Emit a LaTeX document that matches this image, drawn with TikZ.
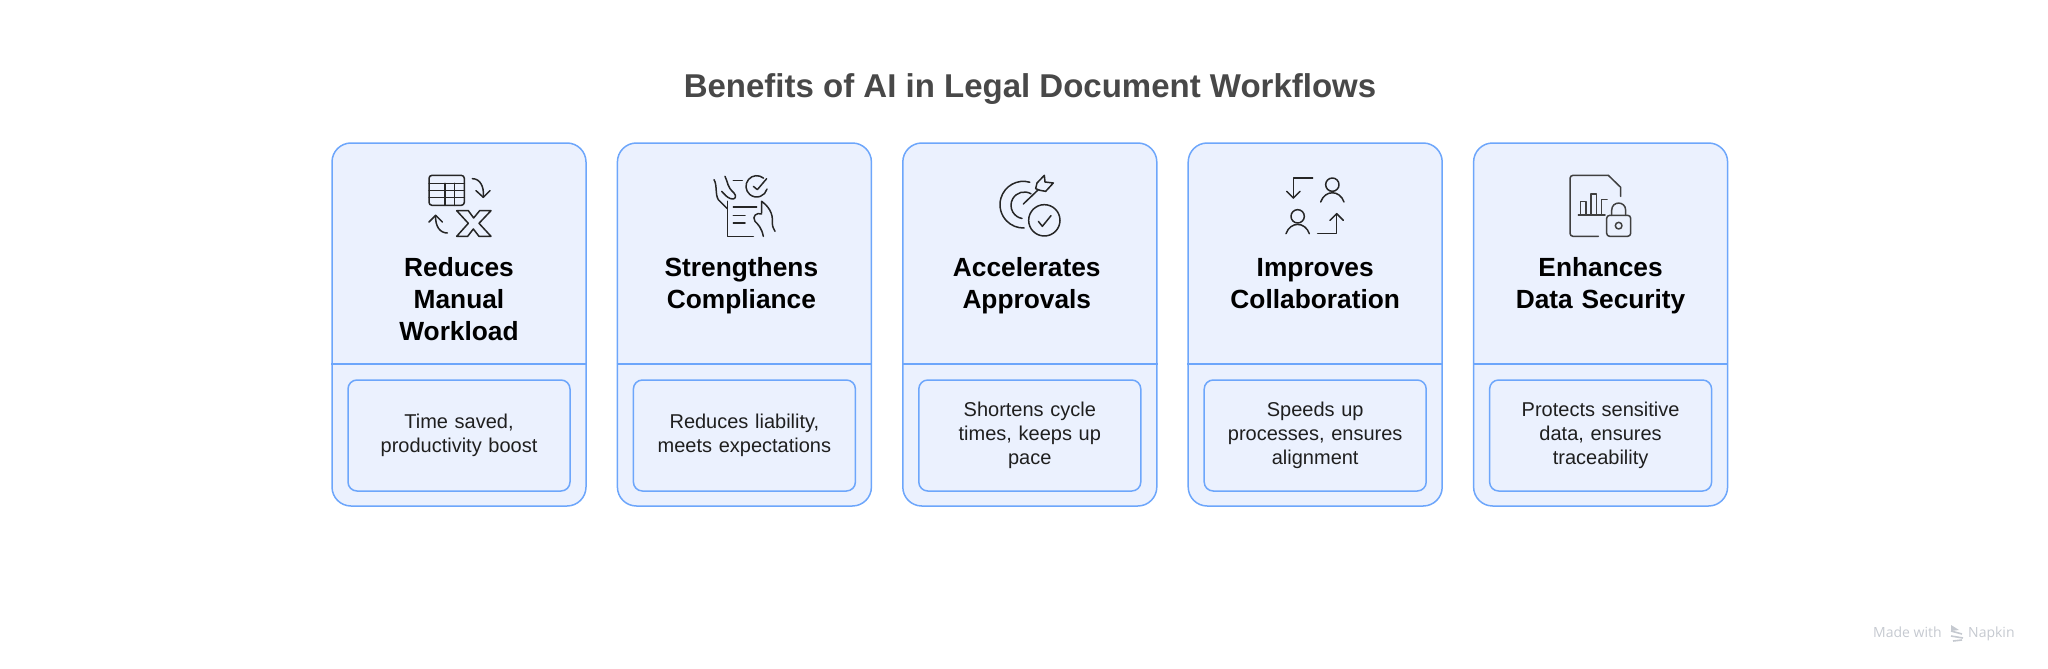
\documentclass[tikz,border=0pt]{standalone}
\usepackage{fontspec}
\setmainfont{Liberation Sans}
\newfontfamily\markfont{Open Sans}
\definecolor{cardfill}{HTML}{EBF1FE}
\definecolor{cardline}{HTML}{6DA6FB}
\definecolor{titletext}{HTML}{484848}
\definecolor{marktext}{HTML}{C5C9D0}

\begin{document}
\begin{tikzpicture}[
x=1pt, y=-1pt,
node distance=285.4pt,
card/.style={rectangle, draw=cardline, fill=cardfill, line width=1.5pt, rounded corners=19pt, minimum width=254pt, minimum height=363pt},
note/.style={rectangle, draw=cardline, fill=cardfill, line width=1.5pt, rounded corners=9pt, minimum width=222pt, minimum height=111pt, text width=210pt, align=center, inner sep=0pt, text=black!88, font=\fontsize{20}{24}\selectfont},
head/.style={anchor=north, text width=240pt, align=center, inner sep=0pt, font=\fontsize{26.3}{32}\selectfont\bfseries, execute at begin node={\rule{0pt}{20pt}}},
madewith/.style={font=\markfont\fontsize{14}{17}\selectfont, text=marktext, anchor=base west, inner sep=0pt},
divider/.style={draw=cardline, line width=1.5pt},
icon/.style={x=0.3333pt, y=-0.3333pt, line width=1.5pt, line cap=round, line join=round, draw=black!85}
]
\useasboundingbox (0,0) rectangle (2048,669);

%Title
\node[font=\fontsize{33}{40}\selectfont\bfseries, text=titletext] (title) at (1030,89) {Benefits of AI in Legal Document Workflows};

%Cards
\node[card]      (c1)     at (459,324.5)      {};
\node[card]      (c2)     [right of = c1]     {};
\node[card]      (c3)     [right of = c2]     {};
\node[card]      (c4)     [right of = c3]     {};
\node[card]      (c5)     [right of = c4]     {};

%Headings
\node[head]      (h1)     at ([yshift=-114pt]c1.north)                {Reduces\\Manual\\Workload};
\node[head]      (h2)     at ([xshift=-3pt,yshift=-114pt]c2.north)    {Strengthens\\Compliance};
\node[head]      (h3)     at ([xshift=-3pt,yshift=-114pt]c3.north)    {Accelerates\\Approvals};
\node[head]      (h4)     at ([yshift=-114pt]c4.north)                {Improves\\Collaboration};
\node[head]      (h5)     at ([yshift=-114pt]c5.north)                {Enhances\\Data Security};

%Notes
\node[note]      (n1)     at ([yshift=-111pt]c1.center)    {Time saved,\\productivity boost};
\node[note]      (n2)     at ([yshift=-111pt]c2.center)    {Reduces liability,\\meets expectations};
\node[note]      (n3)     at ([yshift=-111pt]c3.center)    {Shortens cycle\\times, keeps up\\pace};
\node[note]      (n4)     at ([yshift=-111pt]c4.center)    {Speeds up\\processes, ensures\\alignment};
\node[note]      (n5)     at ([yshift=-111pt]c5.center)    {Protects sensitive\\data, ensures\\traceability};

%Lines
\coordinate (rule) at (0,364);
\draw[divider] (c1.west |- rule) -- (c1.east |- rule);
\draw[divider] (c2.west |- rule) -- (c2.east |- rule);
\draw[divider] (c3.west |- rule) -- (c3.east |- rule);
\draw[divider] (c4.west |- rule) -- (c4.east |- rule);
\draw[divider] (c5.west |- rule) -- (c5.east |- rule);

%Icon: table and X
\begin{scope}[shift={(415,168)}, icon]
\draw[rounded corners=3pt] (42,22) rectangle (148,112);
\draw (42,46) -- (148,46) (42,67) -- (148,67) (42,89) -- (148,89);
\draw (90,46) -- (90,112) (118,46) -- (118,112);
\draw (172,32) .. controls (195,32) and (208,55) .. (205,88);
\draw (183,68) -- (205,88) -- (225,68);
\draw (97,195) .. controls (75,195) and (60,175) .. (62,142);
\draw (42,162) -- (62,142) -- (82,162);
\draw (125,128) -- (160,128) -- (176,150) -- (194,128) -- (228,128) -- (192,166) -- (228,205) -- (192,205) -- (175,183) -- (158,205) -- (125,205) -- (160,166) -- cycle;
\end{scope}

%Icon: document and hands
\begin{scope}[shift={(700,168)}, icon]
\draw (42,35) .. controls (52,50) and (45,80) .. (55,95) -- (82,122);
\draw (75,25) .. controls (85,45) and (80,55) .. (102,75) .. controls (112,85) and (105,97) .. (92,92) .. controls (80,88) and (75,80) .. (65,70);
\draw (100,37) -- (127,37);
\draw (190.6,30.5) arc[start angle=-50, end angle=-345, radius=32];
\draw (160,55) -- (172,65) -- (200,32);
\draw (82,100) -- (82,205) -- (160,205);
\draw (100,117) -- (170,117) (100,142) -- (135,142) (100,165) -- (135,165);
\draw (185,135) -- (185,100) .. controls (205,115) and (220,135) .. (217,165) .. controls (217,178) and (222,182) .. (225,190);
\draw (185,138) .. controls (170,132) and (155,145) .. (165,160) .. controls (175,170) and (185,180) .. (190,205);
\end{scope}

%Icon: target
\begin{scope}[shift={(985,168)}, icon]
\draw (134.3,42.7) arc[start angle=-74, end angle=-272, radius=70];
\draw (138,77.4) arc[start angle=-60, end angle=-260, radius=40];
\draw (178,157) circle[radius=47];
\draw (160,160) -- (172,175) -- (198,143);
\draw (115,108) -- (160,65);
\draw (152,62) -- (156,45) -- (178,22) -- (180,42) -- (205,45) -- (182,70) -- (165,67) -- cycle;
\end{scope}

%Icon: people and arrows
\begin{scope}[shift={(1270,168)}, icon]
\draw (128,30) -- (70,30) -- (70,90);
\draw (50,70) -- (70,90) -- (90,70);
\draw (187,50) circle[radius=20];
\draw (152,102) .. controls (165,65) and (209,65) .. (222,102);
\draw (83,145) circle[radius=20];
\draw (48,197) .. controls (61,160) and (105,160) .. (118,197);
\draw (143,197) -- (200,197) -- (200,137);
\draw (180,157) -- (200,137) -- (220,157);
\end{scope}

%Icon: file and lock
\begin{scope}[shift={(1555,168)}, icon, draw=black!75]
\draw[rounded corners=3pt] (130,205) -- (45,205) -- (45,22) -- (160,22);
\draw (160,22) -- (197,58) -- (197,85);
\draw (70,141) -- (150,141);
\draw (76,141) -- (76,100) -- (93,100) -- (93,141);
\draw (108,141) -- (108,78) -- (125,78) -- (125,141);
\draw (140,141) -- (140,95) -- (156,95);
\draw[rounded corners=3pt] (155,142) rectangle (227,205);
\draw (170,142) -- (170,127) .. controls (170,98) and (212,98) .. (212,127) -- (212,142);
\draw (191,173) circle[radius=10];
\end{scope}

%Watermark
\node[madewith] (made) at (1873,637) {Made with};
\node[madewith] (napkin) at (1968,637) {Napkin};
\draw[draw=marktext, line width=1.6pt] (1951,631) -- (1962,634) (1951,636) -- (1963,638) (1953,641) -- (1962,640);
\fill[marktext] (1951,625) -- (1959,630) -- (1951,631) -- cycle;
\end{tikzpicture}
\end{document}
